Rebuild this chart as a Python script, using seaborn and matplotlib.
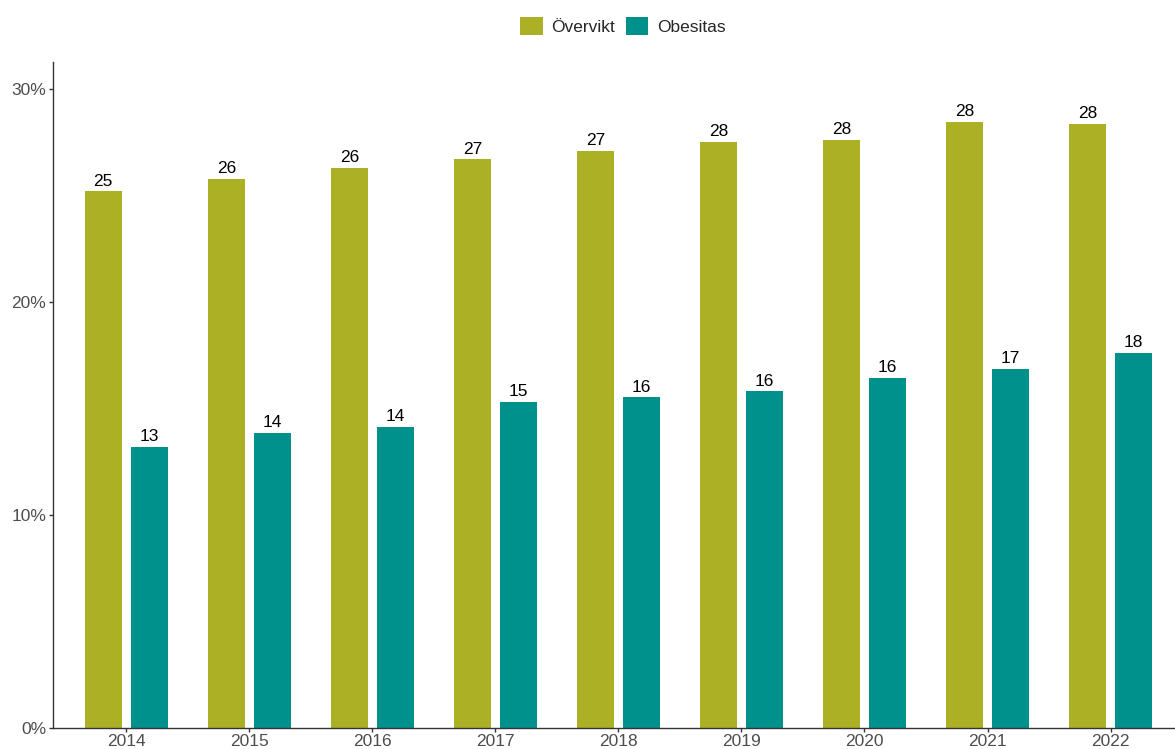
import pandas as pd
import seaborn as sns
import matplotlib.pyplot as plt
from matplotlib.ticker import FuncFormatter

years = ["2014", "2015", "2016", "2017", "2018", "2019", "2020", "2021", "2022"]
overvikt = [25.2, 25.8, 26.3, 26.7, 27.1, 27.52, 27.6, 28.45, 28.35]
obesitas = [13.2, 13.85, 14.15, 15.3, 15.52, 15.8, 16.45, 16.85, 17.6]
groups = ["Övervikt", "Obesitas"]
colors = ["#ABB024", "#00918C"]

df = pd.DataFrame({
    "year": years * 2,
    "value": overvikt + obesitas,
    "group": [groups[0]] * len(years) + [groups[1]] * len(years),
})

sns.set_style("white")
plt.rcParams['font.family'] = ['Liberation Sans', 'DejaVu Sans']

fig = plt.figure(figsize=(11.75, 7.49), dpi=100)
ax = fig.add_axes([52.5 / 1175, 21 / 749, 1 - 52.5 / 1175, (728 - 62) / 749])

sns.barplot(data=df, x="year", y="value", hue="group", palette=colors,
            saturation=1, linewidth=0, width=0.75, gap=0.2, ax=ax, legend=True)

for cont in ax.containers:
    ax.bar_label(cont, fmt="%.0f", padding=2, fontsize=12.5, color="black")

ax.set_xlim(-0.6, 8.524)
ax.set_ylim(0, 31.27)
ax.set_yticks([0, 10, 20, 30])
ax.yaxis.set_major_formatter(FuncFormatter(lambda v, p: f"{v:.0f}%"))
ax.set_xlabel("")
ax.set_ylabel("")

for side in ["top", "right"]:
    ax.spines[side].set_visible(False)
for side in ["left", "bottom"]:
    ax.spines[side].set_color("#333333")
    ax.spines[side].set_linewidth(1.0)
ax.tick_params(axis="both", which="both", length=3, width=1, color="#333333",
               labelsize=12.5, labelcolor="#4D4D4D", direction="out",
               left=True, bottom=True, pad=1.5)

handles, labels = ax.get_legend_handles_labels()
ax.get_legend().remove()
fig.legend(handles, labels, loc="center", bbox_to_anchor=(623 / 1175, 1 - 26 / 749),
           ncol=2, frameon=False, fontsize=12.5, handlelength=1.3, handleheight=1.3,
           handletextpad=0.5, columnspacing=0.6)

fig.savefig("out.png", dpi=100)
